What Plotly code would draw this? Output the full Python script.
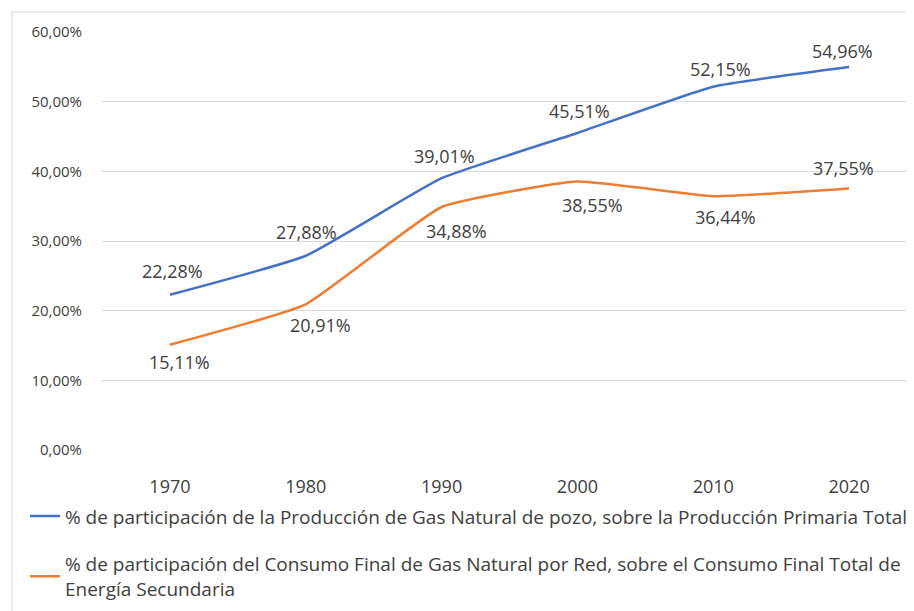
import plotly.graph_objects as go

years = ["1970", "1980", "1990", "2000", "2010", "2020"]
produccion = [22.28, 27.88, 39.01, 45.51, 52.15, 54.96]
consumo = [15.11, 20.91, 34.88, 38.55, 36.44, 37.55]
y_tick_vals = [0, 10, 20, 30, 40, 50, 60]
y_tick_text = ["0,00%", "10,00%", "20,00%", "30,00%", "40,00%", "50,00%", "60,00%"]

name_prod = "% de participación de la Producción de Gas Natural de pozo, sobre la Producción Primaria Total"
name_cons = "% de participación del Consumo Final de Gas Natural por Red, sobre el Consumo Final Total de<br>Energía Secundaria"

# label placement (pixel offsets) per point
prod_shift = [(3, 24), (1, 24), (3, 22), (2, 22), (7, 18), (-7, 16)]
cons_shift = [(10, -17), (15, -21), (15, -24), (15, -24), (12, -21), (-6, 20)]

def fmt(v):
    return f"{v:.2f}".replace(".", ",") + "%"

font_family = "Open Sans, Liberation Sans, sans-serif"
txt_color = "#404040"

fig = go.Figure()
fig.add_trace(go.Scatter(
    x=years, y=produccion, name=name_prod, mode="lines",
    line=dict(color="#4472C4", width=2.5, shape="spline", smoothing=0.4),
    legendgroup="a", cliponaxis=False,
))
fig.add_trace(go.Scatter(
    x=years, y=consumo, name=name_cons, mode="lines",
    line=dict(color="#ED7D31", width=2.5, shape="spline", smoothing=0.4),
    legendgroup="b", cliponaxis=False,
))

for ys, shifts in ((produccion, prod_shift), (consumo, cons_shift)):
    for i, (yv, (dx, dy)) in enumerate(zip(ys, shifts)):
        fig.add_annotation(x=i, y=yv, xref="x", yref="y", text=fmt(yv),
                           showarrow=False, xshift=dx, yshift=dy,
                           font=dict(size=18, color=txt_color, family=font_family))

fig.update_layout(
    width=914, height=611,
    margin=dict(l=94, r=5, t=24, b=169, autoexpand=False),
    paper_bgcolor="white", plot_bgcolor="white",
    font=dict(family=font_family, color=txt_color),
    showlegend=True,
    legend=dict(
        x=-0.0945, xanchor="left", y=-0.113, yanchor="top",
        orientation="v", tracegroupgap=20,
        font=dict(size=19, color=txt_color, family=font_family),
        itemwidth=30, bgcolor="rgba(0,0,0,0)",
    ),
    xaxis=dict(
        type="category", range=[-0.5, 5.5], showgrid=False, showline=False,
        ticks="", tickfont=dict(size=18, color=txt_color), ticklabelstandoff=24,
        zeroline=False, fixedrange=True,
    ),
    yaxis=dict(
        range=[0, 60], tickvals=y_tick_vals, ticktext=y_tick_text,
        showgrid=True, gridcolor="#D9D9D9", gridwidth=1, zeroline=False,
        showline=False, ticks="", tickfont=dict(size=15, color=txt_color),
        ticklabelstandoff=19,
    ),
)

fig.add_shape(type="rect", xref="paper", yref="paper",
              x0=(4 - 94) / 815, x1=1.05,
              y0=-0.6, y1=1 + (24 - 4) / 418,
              line=dict(color="#D9D9D9", width=1), layer="below")

fig.write_html("out.html")
